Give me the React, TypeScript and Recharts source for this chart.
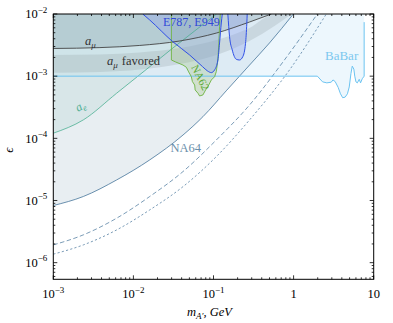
import React from 'react'
import { ComposedChart, Area, Line, XAxis, YAxis } from 'recharts'

// plot box in page pixels (matplotlib-like axes)
const W = 393
const H = 323
const BOX = { left: 53.3, top: 14, right: 373.7, bottom: 279.3 }
const TOP = 1e-2
const FONT = "'Liberation Serif', 'DejaVu Serif', serif"
const X_AXIS_H = 30
const Y_AXIS_W = 40

// curves: [m_A' (GeV), epsilon]
const na64: [number, number][] = [
  [1e-3, 8.3e-6], [2.37e-3, 1.16e-5], [6.17e-3, 2.14e-5], [0.016, 4.5e-5], [0.0416, 1.13e-4],
  [0.0738, 2.23e-4], [0.144, 5.8e-4], [0.282, 1.51e-3], [0.5, 3.42e-3], [0.994, 1e-2],
]
const na64Proj1: [number, number][] = [
  [1e-3, 1.93e-6], [2.37e-3, 2.8e-6], [6.17e-3, 5.19e-6], [0.016, 1.16e-5], [0.0416, 2.92e-5],
  [0.1084, 9.4e-5], [0.282, 3.44e-4], [0.768, 1.82e-3], [1.98, 1e-2],
]
const na64Proj2: [number, number][] = [
  [1e-3, 1.37e-6], [2.37e-3, 1.93e-6], [6.17e-3, 3.36e-6], [0.016, 7.06e-6], [0.0416, 1.67e-5],
  [0.1084, 5.08e-5], [0.282, 1.98e-4], [0.889, 1.26e-3], [2.56, 1e-2],
]
const aE: [number, number][] = [
  [1e-3, 1.21e-4], [2.37e-3, 1.98e-4], [6.17e-3, 5.31e-4], [0.016, 1.42e-3], [0.0301, 2.74e-3],
  [0.0581, 5.33e-3], [0.1093, 1e-2],
]
const aMu: [number, number][] = [
  [1e-3, 2.79e-3], [3.82e-3, 2.88e-3], [0.012, 3.12e-3], [0.0379, 3.68e-3], [0.1093, 4.95e-3],
  [0.2815, 7.43e-3], [0.529, 1e-2],
]
const favM = [1e-3, 3.82e-3, 0.012, 0.0379, 0.1093, 0.2815, 0.577, 0.939]
const favLo = [1.14e-3, 1.17e-3, 1.28e-3, 1.57e-3, 2.19e-3, 3.68e-3, 6.41e-3, 1e-2]
const favHi = [2.19e-3, 2.23e-3, 2.41e-3, 2.84e-3, 3.82e-3, 5.96e-3, 1e-2, 1e-2]
const babar: [number, number][] = [
  [1e-3, 1e-3], [1.98, 1e-3], [2.3, 8.1e-4], [2.6, 7.8e-4], [2.95, 8.0e-4], [3.1, 8.7e-4],
  [3.3, 8.2e-4], [3.6, 6.6e-4], [3.85, 5.2e-4], [4.1, 4.5e-4], [4.4, 4.6e-4], [4.7, 5.2e-4],
  [4.95, 6.7e-4], [5.2, 1.1e-3], [5.4, 1.45e-3], [5.65, 1.3e-3], [5.8, 1.0e-3], [6.0, 8.1e-4],
  [6.25, 7.8e-4], [6.6, 8.9e-4], [6.85, 7.8e-4], [7.2, 9.1e-4], [7.6, 1.0e-3], [7.6, 7.4e-3],
]
const e787a: [number, number][] = [
  [0.01309, 1e-2], [0.016, 8.0e-3], [0.03096, 3.59e-3], [0.0504, 2.19e-3], [0.0731, 1.42e-3],
  [0.0844, 1.21e-3], [0.094, 1.14e-3], [0.1032, 1.26e-3], [0.1134, 1.82e-3], [0.119, 3.42e-3],
  [0.1251, 7.17e-3], [0.1288, 1e-2],
]
const e787b: [number, number][] = [
  [0.151, 1e-2], [0.1587, 4.31e-3], [0.1714, 2.64e-3], [0.1923, 1.87e-3], [0.2113, 1.82e-3],
  [0.2323, 2.06e-3], [0.2512, 3.38e-3], [0.2606, 7.09e-3], [0.2636, 1e-2],
]
const na62: [number, number][] = [
  [0.0298, 1e-2], [0.0298, 1.82e-3], [0.0337, 1.69e-3], [0.0416, 1.51e-3], [0.0458, 1.39e-3],
  [0.049, 1.17e-3], [0.0529, 9.8e-4], [0.0545, 8.2e-4], [0.0582, 7.2e-4], [0.059, 6.0e-4],
  [0.064, 5.31e-4], [0.0671, 4.8e-4], [0.0738, 4.99e-4], [0.0797, 6.0e-4], [0.0851, 6.78e-4],
  [0.094, 8.69e-4], [0.1032, 9.8e-4], [0.1083, 1.18e-3], [0.1134, 1.82e-3], [0.1167, 3.38e-3],
  [0.119, 6.25e-3], [0.1216, 1e-2],
]

// ticks
const xMajor = [1e-3, 1e-2, 1e-1, 1, 10]
const xMajorLabels = [['10', '−3'], ['10', '−2'], ['10', '−1'], ['1', ''], ['10', '']]
const yMajor = [1e-6, 1e-5, 1e-4, 1e-3, 1e-2]
const yMajorLabels = [['10', '−6'], ['10', '−5'], ['10', '−4'], ['10', '−3'], ['10', '−2']]
const minorMult = [2, 3, 4, 5, 6, 7, 8, 9]

const withMinors = (majors: number[], lo: number, hi: number) => {
  const out: number[] = [...majors]
  ;[1e-7, ...majors].forEach((d) => minorMult.forEach((k) => out.push(d * k)))
  return out.filter((v) => v >= lo * 0.999 && v <= hi * 1.001).sort((a, b) => a - b)
}
const xTicks = withMinors(xMajor, 1e-3, 10)
const yTicks = withMinors(yMajor, 5.4e-7, 1e-2)

const toRows = (pts: [number, number][]) => pts.map(([m, eps]) => ({ m, eps, band: [eps, TOP] }))
const favRows = favM.map((m, i) => ({ m, band: [favLo[i], favHi[i]] }))

const majorIndex = (list: number[], v: number) => list.findIndex((t) => Math.abs(t - v) / t < 1e-6)

function XTick(props: any) {
  const { x, payload } = props
  const i = majorIndex(xMajor, payload.value)
  const len = i >= 0 ? 4 : 2
  return (
    <g>
      <line x1={x} x2={x} y1={BOX.bottom} y2={BOX.bottom - len} stroke="#000" strokeWidth={0.8} />
      <line x1={x} x2={x} y1={BOX.top} y2={BOX.top + len} stroke="#000" strokeWidth={0.8} />
      {i >= 0 && (
        <text x={x} y={BOX.bottom + 19} textAnchor="middle" fontFamily={FONT} fontSize={12.5} fill="#000">
          <tspan>{xMajorLabels[i][0]}</tspan>
          {xMajorLabels[i][1] && <tspan dy={-5.5} fontSize={9}>{xMajorLabels[i][1]}</tspan>}
        </text>
      )}
    </g>
  )
}

function YTick(props: any) {
  const { y, payload } = props
  const i = majorIndex(yMajor, payload.value)
  const len = i >= 0 ? 4 : 2
  return (
    <g>
      <line x1={BOX.left} x2={BOX.left + len} y1={y} y2={y} stroke="#000" strokeWidth={0.8} />
      <line x1={BOX.right} x2={BOX.right - len} y1={y} y2={y} stroke="#000" strokeWidth={0.8} />
      {i >= 0 && (
        <text x={BOX.left - 6} y={y + 4.3} textAnchor="end" fontFamily={FONT} fontSize={12.5} fill="#000">
          <tspan>{yMajorLabels[i][0]}</tspan>
          <tspan dy={-5.5} fontSize={9}>{yMajorLabels[i][1]}</tspan>
        </text>
      )}
    </g>
  )
}

export default function App() {
  return (
    <div style={{ position: 'absolute', left: 0, top: 0, width: W, height: H, background: '#fff' }}>
      <ComposedChart
        width={W}
        height={H}
        margin={{ top: BOX.top, right: W - BOX.right, bottom: H - BOX.bottom - X_AXIS_H, left: BOX.left - Y_AXIS_W }}
      >
        <XAxis
          dataKey="m"
          type="number"
          scale="log"
          domain={[1e-3, 10]}
          allowDataOverflow
          ticks={xTicks}
          interval={0}
          height={X_AXIS_H}
          tickSize={4}
          axisLine={false}
          tickLine={false}
          tick={(p: any) => <XTick {...p} />}
        />
        <YAxis
          type="number"
          scale="log"
          domain={[5.4e-7, 1e-2]}
          allowDataOverflow
          ticks={yTicks}
          interval={0}
          width={Y_AXIS_W}
          tickSize={4}
          axisLine={false}
          tickLine={false}
          tick={(p: any) => <YTick {...p} />}
        />

        {/* excluded regions */}
        <Area data={toRows(na64)} dataKey="band" type="monotone" stroke="none" fill="#b4c8d4" fillOpacity={0.3} isAnimationActive={false} />
        <Area data={toRows(babar)} dataKey="band" type="linear" stroke="none" fill="#c2e4fa" fillOpacity={0.3} isAnimationActive={false} />
        <Area data={toRows(aE)} dataKey="band" type="monotone" stroke="none" fill="#7fbfae" fillOpacity={0.15} isAnimationActive={false} />
        <Area data={toRows(aMu)} dataKey="band" type="monotone" stroke="none" fill="#7d98a3" fillOpacity={0.3} isAnimationActive={false} />
        <Area data={favRows} dataKey="band" type="monotone" stroke="none" fill="#8e9ba1" fillOpacity={0.25} isAnimationActive={false} />
        <Area data={toRows(na62)} dataKey="band" type="linear" stroke="none" fill="#9cc07e" fillOpacity={0.3} isAnimationActive={false} />
        <Area data={toRows(e787a)} dataKey="band" type="monotone" stroke="none" fill="#8a9ff0" fillOpacity={0.33} isAnimationActive={false} />
        <Area data={toRows(e787b)} dataKey="band" type="monotone" stroke="none" fill="#8a9ff0" fillOpacity={0.33} isAnimationActive={false} />

        {/* boundaries */}
        <Line data={toRows(na64)} dataKey="eps" type="monotone" stroke="#5983a5" strokeWidth={0.9} dot={false} isAnimationActive={false} />
        <Line data={toRows(na64Proj1)} dataKey="eps" type="monotone" stroke="#5983a5" strokeWidth={0.8} strokeDasharray="4.5 2.5" dot={false} isAnimationActive={false} />
        <Line data={toRows(na64Proj2)} dataKey="eps" type="monotone" stroke="#5983a5" strokeWidth={0.8} strokeDasharray="2.2 2.2" dot={false} isAnimationActive={false} />
        <Line data={toRows(aE)} dataKey="eps" type="monotone" stroke="#4db093" strokeWidth={0.8} dot={false} isAnimationActive={false} />
        <Line data={toRows(aMu)} dataKey="eps" type="monotone" stroke="#444" strokeWidth={0.9} dot={false} isAnimationActive={false} />
        <Line data={toRows(babar)} dataKey="eps" type="linear" stroke="#6cc3f0" strokeWidth={1} dot={false} isAnimationActive={false} />
        <Line data={toRows(na62)} dataKey="eps" type="linear" stroke="#6db33f" strokeWidth={0.9} dot={false} isAnimationActive={false} />
        <Line data={toRows(e787a)} dataKey="eps" type="monotone" stroke="#2f4fe6" strokeWidth={1} dot={false} isAnimationActive={false} />
        <Line data={toRows(e787b)} dataKey="eps" type="monotone" stroke="#2f4fe6" strokeWidth={1} dot={false} isAnimationActive={false} />
      </ComposedChart>

      <svg width={W} height={H} style={{ position: 'absolute', left: 0, top: 0, pointerEvents: 'none' }} fontFamily={FONT}>
        <rect x={BOX.left} y={BOX.top} width={BOX.right - BOX.left} height={BOX.bottom - BOX.top} fill="none" stroke="#000" strokeWidth={1} />
        <text x={163} y={25.5} fontSize={12} fill="#3148d8">E787, E949</text>
        <text x={85} y={45} fontSize={12.5} fill="#333" fontStyle="italic">
          a<tspan dy={3} fontSize={9}>μ</tspan>
        </text>
        <text x={107} y={65} fontSize={12.5} fill="#333">
          <tspan fontStyle="italic">a</tspan>
          <tspan dy={3} fontSize={9} fontStyle="italic">μ</tspan>
          <tspan dy={-3} dx={4}>favored</tspan>
        </text>
        <text x={0} y={0} fontSize={12} fill="#52b095" fontStyle="italic" transform="translate(78 112) rotate(-30)">
          a<tspan dy={2.5} fontSize={8.5}>e</tspan>
        </text>
        <text x={0} y={0} fontSize={11} fill="#5aa832" textAnchor="middle" transform="translate(197 79) rotate(64)">NA62</text>
        <text x={170.5} y={151.5} fontSize={12.5} fill="#6b8fab">NA64</text>
        <text x={325} y={59.5} fontSize={13} fill="#7cc8ef">BaBar</text>
        <text x={0} y={0} fontSize={13} fill="#000" fontStyle="italic" textAnchor="middle" transform="translate(13 150) rotate(-90)">ϵ</text>
        <text x={187} y={316} fontSize={12.5} fill="#000" fontStyle="italic">
          m<tspan dy={3} fontSize={9}>A′</tspan>
          <tspan dy={-3}>, GeV</tspan>
        </text>
      </svg>
    </div>
  )
}
